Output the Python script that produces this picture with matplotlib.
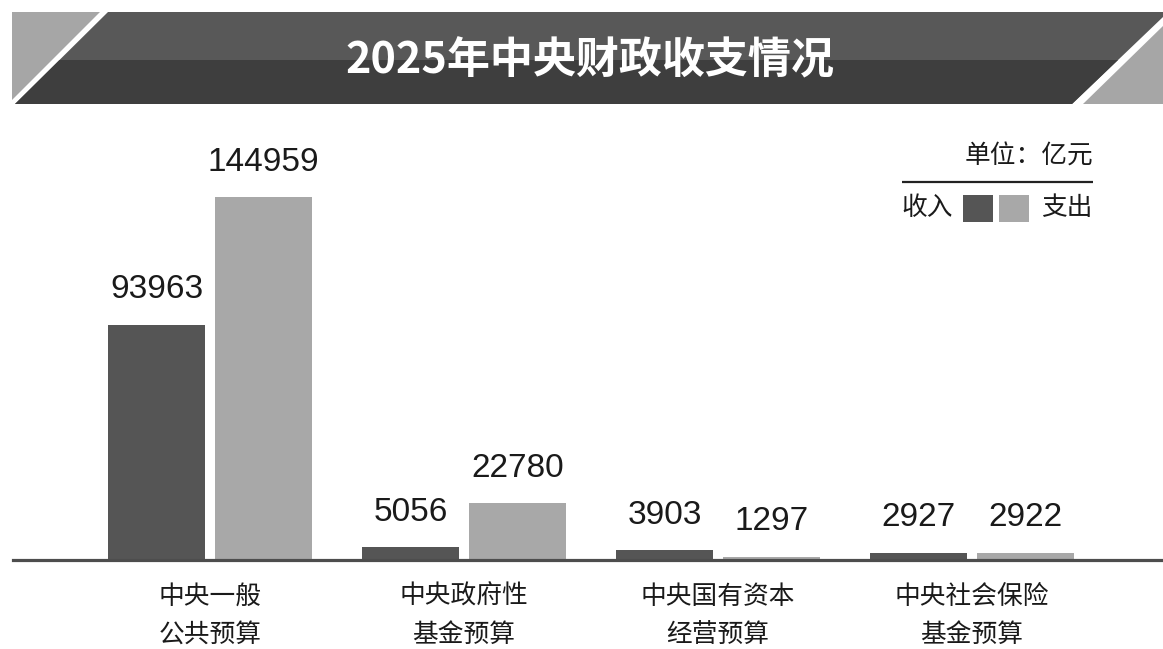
import matplotlib
matplotlib.use("Agg")
import matplotlib.pyplot as plt
from matplotlib.patches import Polygon, Rectangle
import numpy as np

plt.rcParams['font.family'] = ['Noto Sans CJK SC', 'DejaVu Sans']

# ---- data ----
title = "2025年中央财政收支情况"
categories = ["中央一般\n公共预算", "中央政府性\n基金预算", "中央国有资本\n经营预算", "中央社会保险\n基金预算"]
income = [93963, 5056, 3903, 2927]
expense = [144959, 22780, 1297, 2922]
unit_label = "单位：亿元"
legend_income = "收入"
legend_expense = "支出"

W, H = 1163, 649
fig = plt.figure(figsize=(W / 100, H / 100), dpi=100)
fig.patch.set_facecolor("white")

DARK = "#555555"
LIGHT = "#a8a8a8"

# ---- main bar axes (pixel-based placement) ----
base_px = 560
top_px = 150
left_px = 13
ax = fig.add_axes([left_px / W, (H - base_px) / H, (W - left_px) / W, (base_px - top_px) / H])
group_px = 254.0
c0 = 210.0
ax.set_xlim((left_px - c0) / group_px, (W - c0) / group_px)
ymax = max(expense) * (base_px - top_px) / 363.0
ax.set_ylim(0, ymax)

x = np.arange(len(categories))
bw = 0.38
off = 0.21
ax.bar(x - off, income, width=bw, color=DARK, zorder=2)
ax.bar(x + off, expense, width=bw, color=LIGHT, zorder=2)

for xi, v in zip(x - off, income):
    ax.annotate(f"{v}", (xi, v), xytext=(0, 19), textcoords="offset points",
                ha="center", va="baseline", fontsize=24,
                family=["Liberation Sans", "DejaVu Sans"], color="#1a1a1a")
for xi, v in zip(x + off, expense):
    ax.annotate(f"{v}", (xi, v), xytext=(0, 19), textcoords="offset points",
                ha="center", va="baseline", fontsize=24,
                family=["Liberation Sans", "DejaVu Sans"], color="#1a1a1a")

for s in ["top", "right", "left"]:
    ax.spines[s].set_visible(False)
ax.spines["bottom"].set_color("#4d4d4d")
ax.spines["bottom"].set_linewidth(2.3)
ax.spines["bottom"].set_zorder(3)
ax.set_yticks([])
ax.set_xticks(x)
ax.set_xticklabels(categories, fontsize=18.5, color="#1a1a1a", linespacing=1.62)
ax.tick_params(axis="x", length=0, pad=17)
ax.patch.set_visible(False)

# ---- overlay axes for banner and legend ----
oax = fig.add_axes([0, 0, 1, 1], zorder=-1)
oax.set_xlim(0, W)
oax.set_ylim(H, 0)
oax.axis("off")

# banner
band = Polygon([(108, 12), (W, 12), (W, 17), (1072, 104), (15, 104)], closed=True,
               facecolor="#585858", edgecolor="none")
oax.add_patch(band)
lower = Rectangle((0, 60), W, 44, facecolor="#3e3e3e", edgecolor="none")
oax.add_patch(lower)
lower.set_clip_path(band)
oax.add_patch(Polygon([(12, 12), (100, 12), (12, 100)], closed=True,
                      facecolor="#a6a6a6", edgecolor="none"))
oax.add_patch(Polygon([(W, 26), (W, 104), (1083, 104)], closed=True,
                      facecolor="#a6a6a6", edgecolor="none"))
oax.text(590, 60, title, ha="center", va="center", fontsize=31, fontweight="bold",
         color="white")

# legend
oax.text(1093, 157, unit_label, ha="right", va="center", fontsize=18.5, color="#1a1a1a")
oax.plot([902, 1093], [182, 182], color="#222222", lw=1.6, solid_capstyle="butt")
oax.text(901, 208, legend_income, ha="left", va="center", fontsize=18.5, color="#1a1a1a")
oax.add_patch(Rectangle((963, 195), 30, 27, facecolor=DARK, edgecolor="none"))
oax.add_patch(Rectangle((999, 195), 30, 27, facecolor=LIGHT, edgecolor="none"))
oax.text(1093, 208, legend_expense, ha="right", va="center", fontsize=18.5, color="#1a1a1a")

fig.savefig("out.png", dpi=100, facecolor="white")
